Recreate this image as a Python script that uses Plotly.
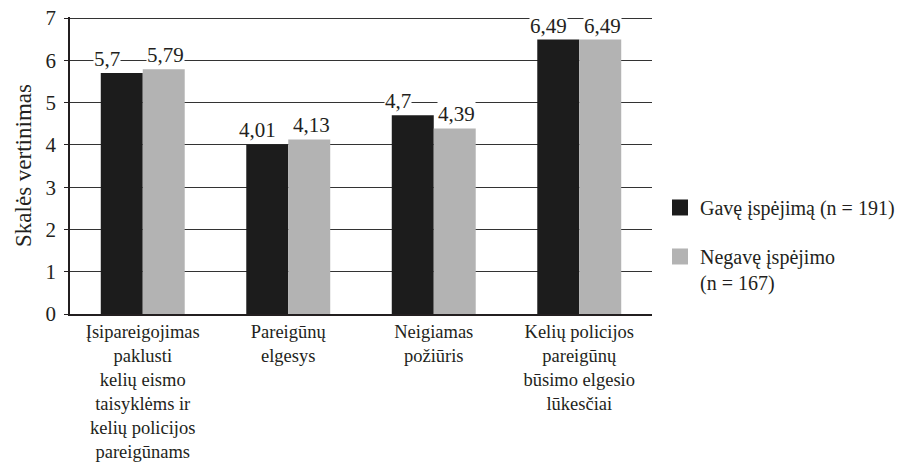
import plotly.graph_objects as go

categories = [
    "Įsipareigojimas<br>paklusti<br>kelių eismo<br>taisyklėms ir<br>kelių policijos<br>pareigūnams",
    "Pareigūnų<br>elgesys",
    "Neigiamas<br>požiūris",
    "Kelių policijos<br>pareigūnų<br>būsimo elgesio<br>lūkesčiai",
]
series_names = ["Gavę įspėjimą (n = 191)", "Negavę įspėjimo<br>(n = 167)"]
gave = [5.7, 4.01, 4.7, 6.49]
negave = [5.79, 4.13, 4.39, 6.49]
y_ticks = [0, 1, 2, 3, 4, 5, 6, 7]

FONT = "Liberation Serif"
TXT = "#231f20"
colors = ["#1c1c1c", "#b3b3b3"]

fig = go.Figure()
for i, (name, vals, col) in enumerate(zip(series_names, [gave, negave], colors)):
    fig.add_trace(go.Bar(
        x=categories, y=vals, name=name, showlegend=False,
        marker=dict(color=col, line=dict(width=0)),
    ))
    # legend-only entry with a larger square swatch
    fig.add_trace(go.Scatter(
        x=[None], y=[None], mode="markers", name=name,
        legendgroup=f"g{i}",
        marker=dict(symbol="square", size=16, color=col),
    ))

# value labels (white background hides gridlines behind text)
for vals, shift, anchor in [(gave, -50, "left"), (negave, 23, "center")]:
    for c, v in zip(categories, vals):
        fig.add_annotation(
            x=c, y=v, text=f"{v:g}".replace(".", ","),
            xshift=shift, xanchor=anchor, yanchor="bottom", yshift=1,
            showarrow=False, bgcolor="white", borderpad=0,
            font=dict(family=FONT, size=21, color=TXT),
        )

fig.update_layout(
    width=912, height=456,
    margin=dict(l=62, r=268, t=9, b=150, autoexpand=False),
    plot_bgcolor="white", paper_bgcolor="white",
    barmode="group", bargap=0.423, bargroupgap=0,
    font=dict(family=FONT, size=20, color=TXT),
    legend=dict(
        xref="container", yref="container",
        x=0.7149, xanchor="left", y=0.6053, yanchor="top",
        font=dict(family=FONT, size=20, color=TXT),
        tracegroupgap=20, valign="top", traceorder="grouped",
        bgcolor="rgba(0,0,0,0)",
    ),
    showlegend=True,
)
fig.update_xaxes(
    automargin=False,
    showline=True, linecolor="#231f20", linewidth=1.5,
    ticks="", tickfont=dict(family=FONT, size=18.5, color=TXT),
    showgrid=False,
)
fig.update_yaxes(
    automargin=False,
    range=[0, 7.025], tickvals=y_ticks, ticktext=[str(t) for t in y_ticks],
    showline=True, linecolor="#231f20", linewidth=1.5,
    ticks="outside", ticklen=4, tickcolor="#231f20",
    ticklabelstandoff=4, ticklabeloverflow="allow",
    showgrid=True, gridcolor="#333333", gridwidth=1,
    zeroline=False,
    tickfont=dict(family=FONT, size=21, color=TXT),
    title=dict(text="Skalės vertinimas", font=dict(family=FONT, size=23, color=TXT), standoff=7),
)

fig.write_html("out.html")
